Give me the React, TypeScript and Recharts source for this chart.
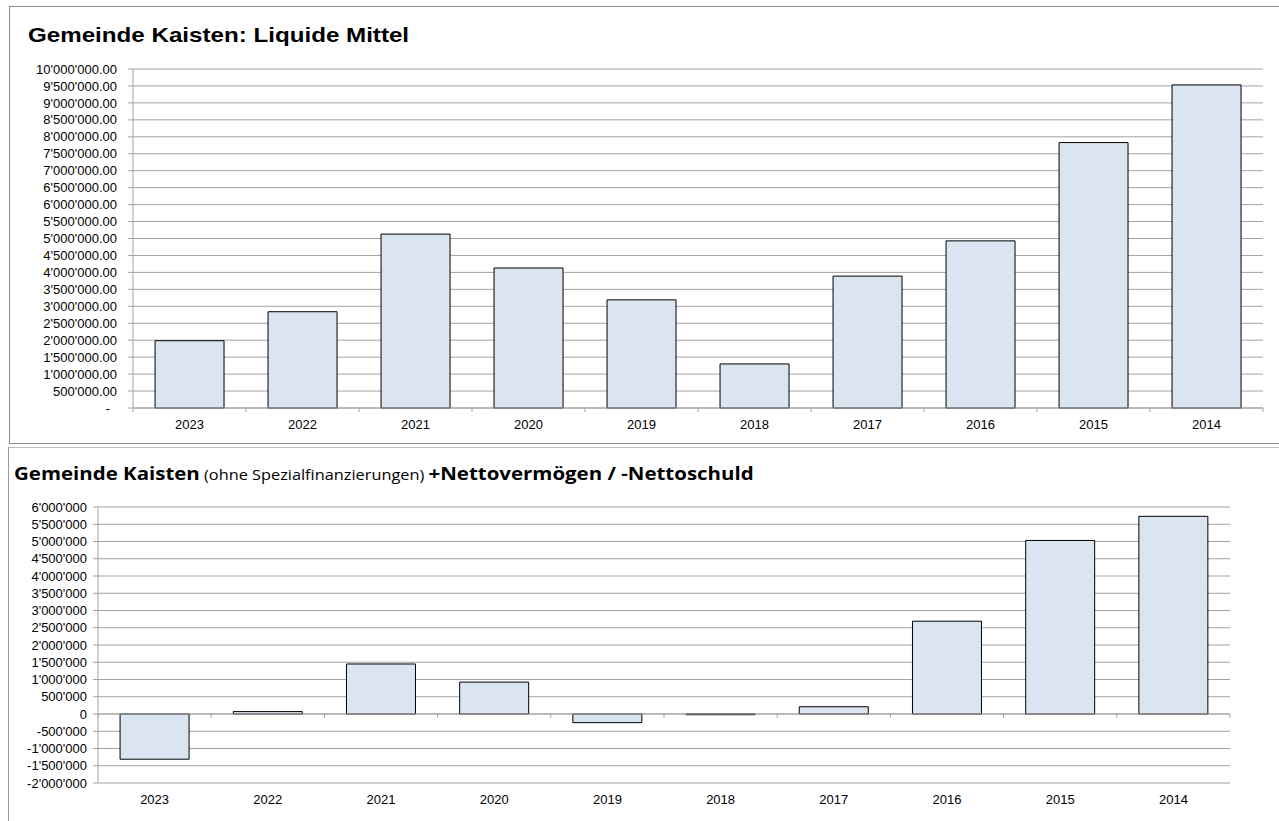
import { BarChart, Bar, XAxis, YAxis, CartesianGrid, ReferenceLine } from 'recharts';

const YEARS = ['2023', '2022', '2021', '2020', '2019', '2018', '2017', '2016', '2015', '2014'];
const LIQUIDE_MITTEL = [1985000, 2840000, 5130000, 4130000, 3190000, 1300000, 3890000, 4930000, 7830000, 9530000];
const NETTOVERMOEGEN = [-1310000, 70000, 1450000, 925000, -250000, -20000, 210000, 2690000, 5030000, 5730000];

const TICKS_LIQUIDE = [
  0, 500000, 1000000, 1500000, 2000000, 2500000, 3000000, 3500000, 4000000, 4500000, 5000000,
  5500000, 6000000, 6500000, 7000000, 7500000, 8000000, 8500000, 9000000, 9500000, 10000000,
];
const TICKS_NETTO = [
  -2000000, -1500000, -1000000, -500000, 0, 500000, 1000000, 1500000, 2000000, 2500000, 3000000,
  3500000, 4000000, 4500000, 5000000, 5500000, 6000000,
];

const BAR_FILL = '#dbe5f1';
const GRID = '#a3a3a3';
const FONT = '"Liberation Sans", Arial, sans-serif';

const liquideData = YEARS.map((year, i) => ({ year, value: LIQUIDE_MITTEL[i] }));
const nettoData = YEARS.map((year, i) => ({ year, value: NETTOVERMOEGEN[i] }));

function swiss(n: number, decimals: number) {
  const [int, dec] = Math.abs(n).toFixed(decimals).split('.');
  const grouped = int.replace(/\B(?=(\d{3})+(?!\d))/g, "'");
  return (n < 0 ? '-' : '') + grouped + (dec ? '.' + dec : '');
}

// zero line with tick marks at the category borders
function ZeroAxis(props: any) {
  const { x1, y1, x2, y2 } = props;
  const n = YEARS.length;
  const step = (x2 - x1) / n;
  return (
    <g>
      <line x1={x1} y1={y1} x2={x2} y2={y2} stroke={GRID} strokeWidth={1} />
      {Array.from({ length: n + 1 }, (_, i) => (
        <line key={i} x1={x1 + i * step} x2={x1 + i * step} y1={y1} y2={y1 + 4} stroke={GRID} strokeWidth={1} />
      ))}
    </g>
  );
}

const tickStyle = { fontSize: 13, fill: '#000', fontFamily: FONT };

export default function App() {
  return (
    <div style={{ position: 'relative', width: 1279, height: 821, background: '#fff', overflow: 'hidden' }}>
      <style>{'body{margin:0}'}</style>

      {/* top panel */}
      <div
        style={{
          position: 'absolute', left: 9, top: 6, width: 1280, height: 438,
          border: '1px solid #8c8c8c', borderRight: 'none', boxSizing: 'border-box',
        }}
      />
      <div
        style={{
          position: 'absolute', left: 28, top: 24, fontFamily: FONT, fontWeight: 700, fontSize: 21,
          lineHeight: '21px', whiteSpace: 'nowrap', transform: 'scaleX(1.15)', transformOrigin: 'left top',
        }}
      >
        Gemeinde Kaisten: Liquide Mittel
      </div>
      <div style={{ position: 'absolute', left: 0, top: 0 }}>
        <BarChart width={1279} height={443} data={liquideData} margin={{ top: 69, right: 16, bottom: 5, left: 0 }} barCategoryGap="19.5%">
          <CartesianGrid vertical={false} stroke={GRID} />
          <XAxis dataKey="year" axisLine={false} tickLine={false} tickMargin={6} height={30} tick={tickStyle} interval={0} />
          <YAxis
            type="number"
            domain={[0, 10000000]}
            ticks={TICKS_LIQUIDE}
            interval={0}
            width={133}
            tickSize={5}
            tickMargin={11}
            axisLine={{ stroke: GRID }}
            tickLine={{ stroke: GRID }}
            tick={tickStyle}
            tickFormatter={(v: number) => (v === 0 ? '-\u00a0\u00a0' : swiss(v, 2))}
          />
          <Bar dataKey="value" fill={BAR_FILL} stroke="#000" strokeWidth={1} isAnimationActive={false} />
          <ReferenceLine y={0} shape={ZeroAxis} />
        </BarChart>
      </div>

      {/* bottom panel */}
      <div
        style={{
          position: 'absolute', left: 8, top: 447, width: 1280, height: 380,
          borderTop: '1px solid #bdbdbd', borderLeft: '1px solid #9a9a9a', boxSizing: 'border-box',
        }}
      />
      <div
        style={{
          position: 'absolute', left: 14, top: 464.5, fontFamily: '"Open Sans", "Noto Sans", sans-serif',
          lineHeight: '17px', whiteSpace: 'nowrap', transform: 'scaleX(1.15)', transformOrigin: 'left top',
        }}
      >
        <span style={{ fontWeight: 700, fontSize: 17.8 }}>Gemeinde Kaisten</span>
        <span style={{ fontSize: 14.2 }}> (ohne Spezialfinanzierungen) </span>
        <span style={{ fontWeight: 700, fontSize: 17.8 }}>+Nettovermögen / -Nettoschuld</span>
      </div>
      <div style={{ position: 'absolute', left: 0, top: 447 }}>
        <BarChart width={1279} height={374} data={nettoData} margin={{ top: 60, right: 49, bottom: 8, left: 0 }} barCategoryGap="19.5%">
          <CartesianGrid vertical={false} stroke={GRID} />
          <XAxis dataKey="year" axisLine={false} tickLine={false} tickMargin={6} height={30} tick={tickStyle} interval={0} />
          <YAxis
            type="number"
            domain={[-2000000, 6000000]}
            ticks={TICKS_NETTO}
            interval={0}
            width={98}
            tickSize={5}
            tickMargin={6}
            axisLine={{ stroke: GRID }}
            tickLine={{ stroke: GRID }}
            tick={tickStyle}
            tickFormatter={(v: number) => swiss(v, 0)}
          />
          <ReferenceLine y={0} shape={ZeroAxis} />
          <Bar dataKey="value" fill={BAR_FILL} stroke="#000" strokeWidth={1} isAnimationActive={false} />
        </BarChart>
      </div>
    </div>
  );
}
